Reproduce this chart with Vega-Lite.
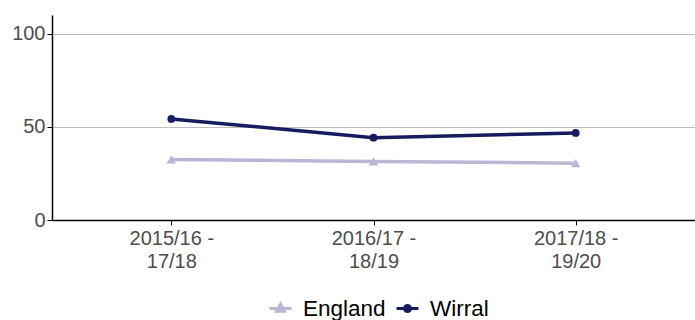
{
  "$schema": "https://vega.github.io/schema/vega-lite/v6.json",
  "width": 643,
  "height": 205,
  "autosize": "none",
  "padding": {"left": 52, "top": 15, "right": 0, "bottom": 100},
  "background": "white",
  "config": {
    "view": {"stroke": null},
    "font": "Liberation Sans"
  },
  "data": {
    "values": [
      {"period": "2015/16 - 17/18", "area": "England", "value": 32.5},
      {"period": "2016/17 - 18/19", "area": "England", "value": 31.4},
      {"period": "2017/18 - 19/20", "area": "England", "value": 30.5},
      {"period": "2015/16 - 17/18", "area": "Wirral", "value": 54.2},
      {"period": "2016/17 - 18/19", "area": "Wirral", "value": 44.2},
      {"period": "2017/18 - 19/20", "area": "Wirral", "value": 46.7}
    ]
  },
  "encoding": {
    "x": {
      "field": "period",
      "type": "ordinal",
      "scale": {"type": "point", "padding": 0.59},
      "axis": {
        "title": null,
        "labelAngle": 0,
        "labelExpr": "split(replace(datum.label, ' - ', ' -|'), '|')",
        "labelFontSize": 20,
        "labelColor": "#4d4d4d",
        "labelLineHeight": 23,
        "labelPadding": 3,
        "tickColor": "#000000",
        "tickSize": 5,
        "domainColor": "#000000",
        "domainWidth": 1.5,
        "grid": false
      }
    },
    "y": {
      "field": "value",
      "type": "quantitative",
      "scale": {"domain": [0, 110], "nice": false, "zero": true},
      "axis": {
        "title": null,
        "values": [0, 50, 100],
        "labelFontSize": 20,
        "labelColor": "#4d4d4d",
        "labelPadding": 2,
        "tickColor": "#000000",
        "tickSize": 5,
        "domainColor": "#000000",
        "domainWidth": 1.5,
        "grid": true,
        "gridColor": "#bebebe",
        "gridWidth": 1
      }
    },
    "color": {
      "field": "area",
      "type": "nominal",
      "scale": {"domain": ["England", "Wirral"], "range": ["#b8b8d6", "#161c5e"]}
    }
  },
  "layer": [
    {
      "mark": {"type": "line", "strokeWidth": 3.5},
      "encoding": {
        "color": {
          "field": "area",
          "type": "nominal",
          "scale": {"domain": ["England", "Wirral"], "range": ["#b8b8d6", "#161c5e"]},
          "legend": {
            "title": null,
            "orient": "none",
            "direction": "horizontal",
            "legendX": 216,
            "legendY": 281,
            "labelFontSize": 22.5,
            "labelColor": "#000000",
            "labelOffset": 10,
            "columnPadding": 4,
            "symbolSize": 484,
            "encode": {
              "symbols": {
                "update": {
                  "shape": [
                    {"test": "datum.value === 'England'", "value": "M-1,0H1M0,-0.4L0.36,0.25H-0.36Z"},
                    {"value": "M-1,0H1M0.27,0A0.27,0.27 0 1,1 -0.27,0A0.27,0.27 0 1,1 0.27,0Z"}
                  ],
                  "stroke": {"scale": "color", "field": "value"},
                  "fill": {"scale": "color", "field": "value"},
                  "strokeWidth": {"value": 3},
                  "opacity": {"value": 1}
                }
              }
            }
          }
        }
      }
    },
    {
      "transform": [{"filter": "datum.area === 'England'"}],
      "mark": {"type": "point", "filled": true, "opacity": 1, "size": 90, "shape": "triangle-up"}
    },
    {
      "transform": [{"filter": "datum.area === 'Wirral'"}],
      "mark": {"type": "point", "filled": true, "opacity": 1, "size": 60, "shape": "circle"}
    }
  ]
}
